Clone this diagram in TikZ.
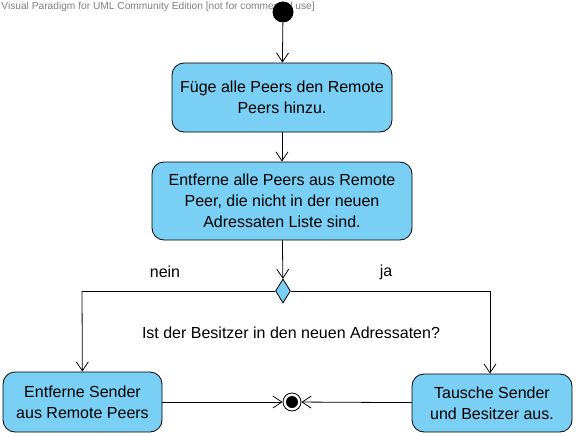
\documentclass[tikz,border=0pt]{standalone}
\usepackage{fontspec}
\setmainfont{Liberation Sans}
\usetikzlibrary{arrows.meta,shapes.geometric}
\definecolor{actblue}{RGB}{122,207,245}
\tikzset{
  action/.style={draw, rounded corners=12pt, fill=actblue, align=center,
    font=\fontsize{16}{21}\selectfont, inner sep=0pt},
  decision/.style={draw, diamond, fill=actblue, minimum width=15pt,
    minimum height=24pt, inner sep=0pt, aspect=0.6},
  plain/.style={font=\fontsize{16}{19}\selectfont}
}
\begin{document}
\begin{tikzpicture}[x=1pt, y=-1pt, >={Straight Barb[length=9pt,width=12pt]}, line width=0.8pt]
        \useasboundingbox (0,0) rectangle (576,436);

        \node[anchor=north west, text=gray, inner sep=0pt,
          font=\fontsize{10.2}{11}\selectfont] (watermark) at (1,2)
          {Visual Paradigm for UML Community Edition [not for commercial use]};

        \node (start) [circle, fill=black, minimum size=21pt, inner sep=0pt] at (283,12) {};
        \node (add) [action, minimum width=220pt, minimum height=69pt] at (282,97.5)
          {F\"uge alle Peers den Remote\\Peers hinzu.};
        \node (remove) [action, minimum width=260pt, minimum height=78pt] at (282,201)
          {Entferne alle Peers aus Remote\\Peer, die nicht in der neuen\\Adressaten Liste sind.};
        \node (check) [decision] at (283,291) {};
        \coordinate (left) at (82,291);
        \coordinate (right) at (490,291);
        \node (no) [plain] at (165,272) {nein};
        \node (yes) [plain] at (386,272) {ja};
        \node (question) [plain] at (291,333) {Ist der Besitzer in den neuen Adressaten?};
        \node (removesender) [action, minimum width=159pt, minimum height=60pt] at (82.5,402)
          {Entferne Sender\\aus Remote Peers};
        \node (swap) [action, minimum width=160pt, minimum height=58pt] at (492,403)
          {Tausche Sender\\und Besitzer aus.};
        \node (end) [circle, draw, fill=white, minimum size=18pt, inner sep=0pt] at (292,402) {};
        \fill (end) circle (6pt);

        \draw[->] (start) -- (add);
        \draw[->] (add) -- (remove);
        \draw[->] (remove) -- (check);
        \draw (left) -- (check.west);
        \draw (check.east) -- (right);
        \draw[->] (left) -- (removesender);
        \draw[->] (right) -- (right |- swap.north);
        \draw[->] (removesender) -- (end);
        \draw[->] (swap) -- (end);

\end{tikzpicture}
\end{document}
